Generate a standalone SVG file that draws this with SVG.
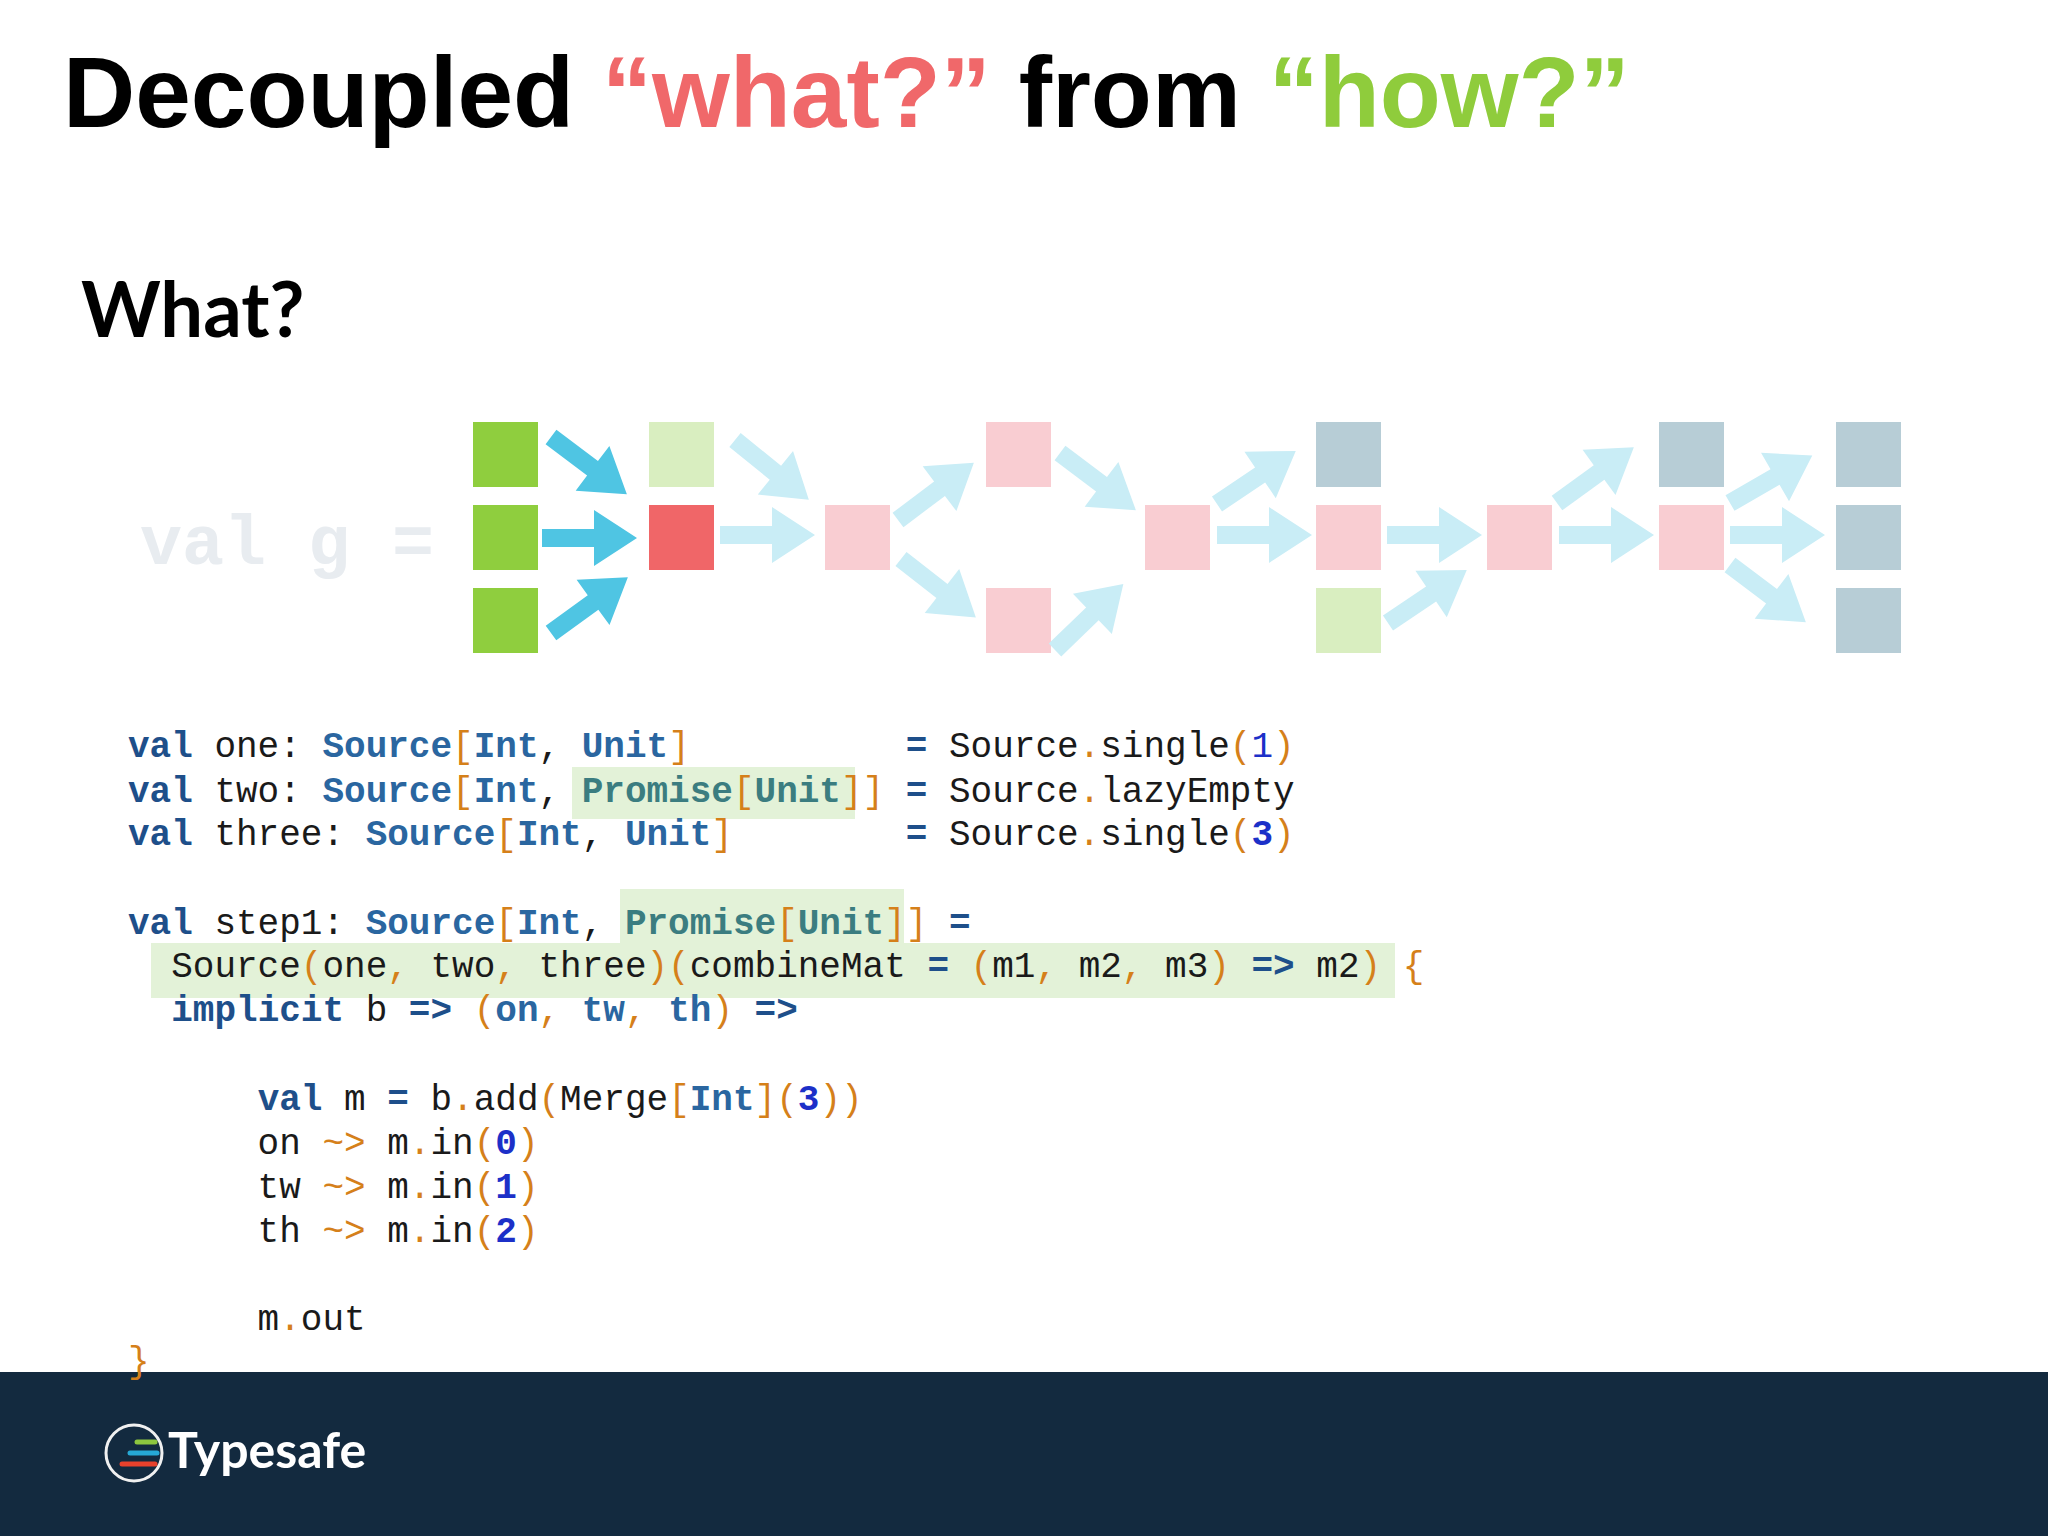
<svg xmlns="http://www.w3.org/2000/svg" width="2048" height="1536" viewBox="0 0 2048 1536">
<style>
.code{font-family:"Liberation Mono",monospace;font-size:36px;fill:#1a1a1a;white-space:pre}
.k{fill:#1e4f8a;font-weight:bold}
.t{fill:#2a66a0;font-weight:bold}
.p{fill:#3b7d80;font-weight:bold}
.o{fill:#d5801a}
.n{fill:#1c30c8;font-weight:bold}
.hl{fill:#e3f2d8}
.g{fill:#8fce3e}.lg{fill:#d9eec0}.r{fill:#f06668}.pk{fill:#f9cdd2}.gb{fill:#b7cdd6}
.ab{fill:#4fc5e3}.al{fill:#c9edf6}
</style>
<defs>
<path id="arr" d="M0,-9 L52,-9 L52,-28 L95,0 L52,28 L52,9 L0,9 Z"/>
</defs>
<rect width="2048" height="1536" fill="#fff"/>
<text x="63" y="127" font-family="Liberation Sans,Arial,sans-serif" font-weight="bold" font-size="100" fill="#000">Decoupled <tspan fill="#f0686a">“what?”</tspan> from <tspan fill="#8fcc3c">“how?”</tspan></text>
<text x="81" y="337" font-family="Lato,sans-serif" font-weight="bold" font-size="76" fill="#000">What?</text>
<text x="140" y="564" font-family="Liberation Mono,monospace" font-weight="bold" font-size="70" fill="#e8ecf0" xml:space="preserve">val g =</text>
<g id="nodes">
<rect class="g" x="473" y="422" width="65" height="65"/>
<rect class="g" x="473" y="505" width="65" height="65"/>
<rect class="g" x="473" y="588" width="65" height="65"/>
<rect class="lg" x="649" y="422" width="65" height="65"/>
<rect class="r" x="649" y="505" width="65" height="65"/>
<rect class="pk" x="825" y="505" width="65" height="65"/>
<rect class="pk" x="986" y="422" width="65" height="65"/>
<rect class="pk" x="986" y="588" width="65" height="65"/>
<rect class="pk" x="1145" y="505" width="65" height="65"/>
<rect class="gb" x="1316" y="422" width="65" height="65"/>
<rect class="pk" x="1316" y="505" width="65" height="65"/>
<rect class="lg" x="1316" y="588" width="65" height="65"/>
<rect class="pk" x="1487" y="505" width="65" height="65"/>
<rect class="gb" x="1659" y="422" width="65" height="65"/>
<rect class="pk" x="1659" y="505" width="65" height="65"/>
<rect class="gb" x="1836" y="422" width="65" height="65"/>
<rect class="gb" x="1836" y="505" width="65" height="65"/>
<rect class="gb" x="1836" y="588" width="65" height="65"/>
</g>
<g id="connectors">
<use href="#arr" class="ab" transform="translate(551,437) rotate(37)"/>
<use href="#arr" class="ab" transform="translate(542,538)"/>
<use href="#arr" class="ab" transform="translate(551,633) rotate(-36)"/>
<use href="#arr" class="al" transform="translate(720,535)"/>
<use href="#arr" class="al" transform="translate(735,440) rotate(39)"/>
<use href="#arr" class="al" transform="translate(898,520) rotate(-37)"/>
<use href="#arr" class="al" transform="translate(901,559) rotate(38)"/>
<use href="#arr" class="al" transform="translate(1060,453) rotate(37)"/>
<use href="#arr" class="al" transform="translate(1055,650) rotate(-44)"/>
<use href="#arr" class="al" transform="translate(1217,504) rotate(-34)"/>
<use href="#arr" class="al" transform="translate(1217,535)"/>
<use href="#arr" class="al" transform="translate(1387,535)"/>
<use href="#arr" class="al" transform="translate(1388,623) rotate(-34)"/>
<use href="#arr" class="al" transform="translate(1557,503) rotate(-36)"/>
<use href="#arr" class="al" transform="translate(1559,535)"/>
<use href="#arr" class="al" transform="translate(1730,503) rotate(-30)"/>
<use href="#arr" class="al" transform="translate(1730,535)"/>
<use href="#arr" class="al" transform="translate(1730,565) rotate(37)"/>
</g>
<rect class="hl" x="572" y="767" width="283" height="52"/>
<rect class="hl" x="620" y="889" width="284" height="54"/>
<rect class="hl" x="151" y="943" width="1244" height="55"/>
<g class="code">
<text xml:space="preserve" x="128" y="757"><tspan class="k">val</tspan> one: <tspan class="t">Source</tspan><tspan class="o">[</tspan><tspan class="t">Int</tspan>, <tspan class="t">Unit</tspan><tspan class="o">]</tspan>          <tspan class="k">=</tspan> Source<tspan class="o">.</tspan>single<tspan class="o">(</tspan><tspan fill="#1c30c8">1</tspan><tspan class="o">)</tspan></text>
<text xml:space="preserve" x="128" y="802"><tspan class="k">val</tspan> two: <tspan class="t">Source</tspan><tspan class="o">[</tspan><tspan class="t">Int</tspan>, <tspan class="p">Promise</tspan><tspan class="o">[</tspan><tspan class="p">Unit</tspan><tspan class="o">]]</tspan> <tspan class="k">=</tspan> Source<tspan class="o">.</tspan>lazyEmpty</text>
<text xml:space="preserve" x="128" y="845"><tspan class="k">val</tspan> three: <tspan class="t">Source</tspan><tspan class="o">[</tspan><tspan class="t">Int</tspan>, <tspan class="t">Unit</tspan><tspan class="o">]</tspan>        <tspan class="k">=</tspan> Source<tspan class="o">.</tspan>single<tspan class="o">(</tspan><tspan class="n">3</tspan><tspan class="o">)</tspan></text>
<text xml:space="preserve" x="128" y="934"><tspan class="k">val</tspan> step1: <tspan class="t">Source</tspan><tspan class="o">[</tspan><tspan class="t">Int</tspan>, <tspan class="p">Promise</tspan><tspan class="o">[</tspan><tspan class="p">Unit</tspan><tspan class="o">]]</tspan> <tspan class="k">=</tspan></text>
<text xml:space="preserve" x="128" y="977">  Source<tspan class="o">(</tspan>one<tspan class="o">,</tspan> two<tspan class="o">,</tspan> three<tspan class="o">)(</tspan>combineMat <tspan class="k">=</tspan> <tspan class="o">(</tspan>m1<tspan class="o">,</tspan> m2<tspan class="o">,</tspan> m3<tspan class="o">)</tspan> <tspan class="k">=&gt;</tspan> m2<tspan class="o">)</tspan> <tspan class="o">{</tspan></text>
<text xml:space="preserve" x="128" y="1021">  <tspan class="k">implicit</tspan> b <tspan class="k">=&gt;</tspan> <tspan class="o">(</tspan><tspan class="t">on</tspan><tspan class="o">,</tspan> <tspan class="t">tw</tspan><tspan class="o">,</tspan> <tspan class="t">th</tspan><tspan class="o">)</tspan> <tspan class="k">=&gt;</tspan></text>
<text xml:space="preserve" x="128" y="1110">      <tspan class="k">val</tspan> m <tspan class="k">=</tspan> b<tspan class="o">.</tspan>add<tspan class="o">(</tspan>Merge<tspan class="o">[</tspan><tspan class="t">Int</tspan><tspan class="o">](</tspan><tspan class="n">3</tspan><tspan class="o">))</tspan></text>
<text xml:space="preserve" x="128" y="1154">      on <tspan class="o">~&gt;</tspan> m<tspan class="o">.</tspan>in<tspan class="o">(</tspan><tspan class="n">0</tspan><tspan class="o">)</tspan></text>
<text xml:space="preserve" x="128" y="1198">      tw <tspan class="o">~&gt;</tspan> m<tspan class="o">.</tspan>in<tspan class="o">(</tspan><tspan class="n">1</tspan><tspan class="o">)</tspan></text>
<text xml:space="preserve" x="128" y="1242">      th <tspan class="o">~&gt;</tspan> m<tspan class="o">.</tspan>in<tspan class="o">(</tspan><tspan class="n">2</tspan><tspan class="o">)</tspan></text>
<text xml:space="preserve" x="128" y="1330">      m<tspan class="o">.</tspan>out</text>
</g>
<rect x="0" y="1372" width="2048" height="164" fill="#132a3f"/>
<text class="code" x="128" y="1372"><tspan class="o">}</tspan></text>
<g id="logo">
<circle cx="134" cy="1453" r="28" fill="none" stroke="#f0f0f0" stroke-width="3"/>
<line x1="137" y1="1442" x2="155" y2="1442" stroke="#8dc63f" stroke-width="5" stroke-linecap="round"/>
<line x1="130" y1="1453" x2="157" y2="1453" stroke="#26a9d6" stroke-width="5" stroke-linecap="round"/>
<line x1="122" y1="1464" x2="155" y2="1464" stroke="#e8412c" stroke-width="5" stroke-linecap="round"/>
<text x="168" y="1468" font-family="Lato,sans-serif" font-weight="bold" font-size="50" fill="#fff">Typesafe</text>
</g>
</svg>
